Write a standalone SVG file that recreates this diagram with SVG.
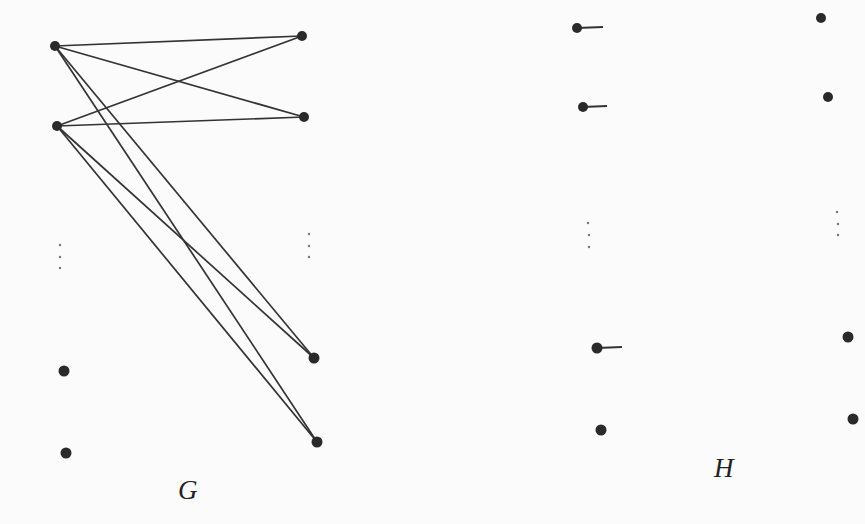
<svg xmlns="http://www.w3.org/2000/svg" width="865" height="524" viewBox="0 0 865 524">
<style>
.n{fill:#2a2a2a}
.d{fill:#777}
.e{stroke:#333;stroke-width:1.7;fill:none}
.s{stroke:#333;stroke-width:2;fill:none}
.lbl{font-family:"Liberation Serif",serif;font-style:italic;font-size:27px;fill:#222}
</style>
<rect width="865" height="524" fill="#fbfbfb"/>
<g id="connectors">
<line class="e" x1="55" y1="46" x2="302" y2="36"/>
<line class="e" x1="55" y1="46" x2="304" y2="117"/>
<line class="e" x1="57" y1="126" x2="302" y2="36"/>
<line class="e" x1="57" y1="126" x2="304" y2="117"/>
<line class="e" x1="55" y1="46" x2="314" y2="358"/>
<line class="e" x1="55" y1="46" x2="317" y2="442"/>
<line class="e" x1="57" y1="126" x2="314" y2="358"/>
<line class="e" x1="57" y1="126" x2="317" y2="442"/>
<line class="s" x1="577" y1="28" x2="603" y2="27"/>
<line class="s" x1="583" y1="107" x2="607" y2="106"/>
<line class="s" x1="597" y1="348" x2="622" y2="347"/>
</g>
<g id="G">
<g id="gL1"><circle class="n" cx="55" cy="46" r="5"/></g>
<g id="gL2"><circle class="n" cx="57" cy="126" r="5"/></g>
<g id="gLdots"><circle class="d" cx="60" cy="245" r="1.2"/><circle class="d" cx="60" cy="257" r="1.2"/><circle class="d" cx="60" cy="268" r="1.2"/></g>
<g id="gL3"><circle class="n" cx="64" cy="371" r="5.5"/></g>
<g id="gL4"><circle class="n" cx="66" cy="453" r="5.5"/></g>
<g id="gR1"><circle class="n" cx="302" cy="36" r="5"/></g>
<g id="gR2"><circle class="n" cx="304" cy="117" r="5"/></g>
<g id="gRdots"><circle class="d" cx="309" cy="234" r="1.2"/><circle class="d" cx="309" cy="246" r="1.2"/><circle class="d" cx="309" cy="257" r="1.2"/></g>
<g id="gR3"><circle class="n" cx="314" cy="358" r="5.5"/></g>
<g id="gR4"><circle class="n" cx="317" cy="442" r="5.5"/></g>
<text class="lbl" x="178" y="499">G</text>
</g>
<g id="H">
<g id="hL1"><circle class="n" cx="577" cy="28" r="5"/></g>
<g id="hL2"><circle class="n" cx="583" cy="107" r="5"/></g>
<g id="hLdots"><circle class="d" cx="588" cy="223" r="1.2"/><circle class="d" cx="589" cy="235" r="1.2"/><circle class="d" cx="589" cy="247" r="1.2"/></g>
<g id="hL3"><circle class="n" cx="597" cy="348" r="5.5"/></g>
<g id="hL4"><circle class="n" cx="601" cy="430" r="5.5"/></g>
<g id="hR1"><circle class="n" cx="821" cy="18" r="5"/></g>
<g id="hR2"><circle class="n" cx="828" cy="97" r="5"/></g>
<g id="hRdots"><circle class="d" cx="837" cy="212" r="1.2"/><circle class="d" cx="838" cy="224" r="1.2"/><circle class="d" cx="838" cy="235" r="1.2"/></g>
<g id="hR3"><circle class="n" cx="848" cy="337" r="5.5"/></g>
<g id="hR4"><circle class="n" cx="853" cy="419" r="5.5"/></g>
<text class="lbl" x="714" y="477">H</text>
</g>
</svg>
